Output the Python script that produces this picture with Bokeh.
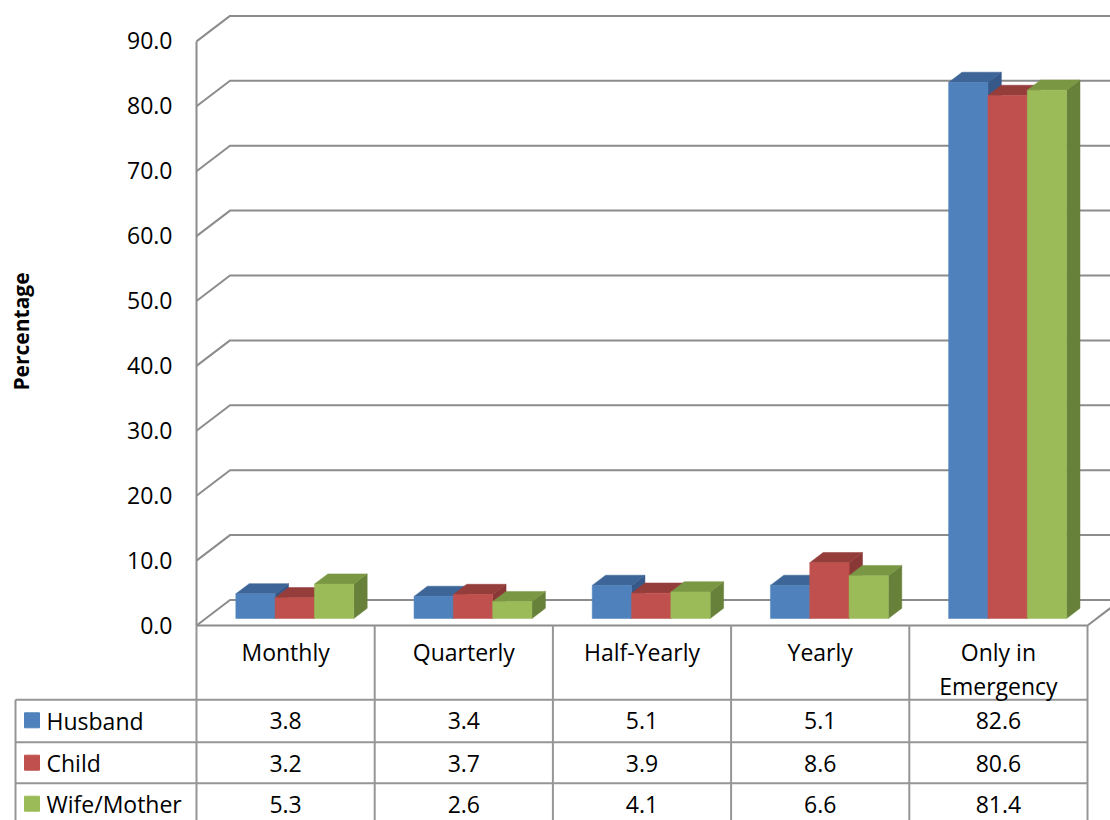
import math
from bokeh.plotting import figure
from bokeh.models import Range1d
from bokeh.embed import file_html
from bokeh.resources import INLINE
from bokeh.core.properties import value

# ---------------- data ----------------
categories = ["Monthly", "Quarterly", "Half-Yearly", "Yearly", "Only in\nEmergency"]
series_names = ["Husband", "Child", "Wife/Mother"]
husband = [3.8, 3.4, 5.1, 5.1, 82.6]
child = [3.2, 3.7, 3.9, 8.6, 80.6]
wife = [5.3, 2.6, 4.1, 6.6, 81.4]
y_ticks = [0, 10, 20, 30, 40, 50, 60, 70, 80, 90]
y_title = "Percentage"

series = [husband, child, wife]

# ---------------- style ----------------
FRONT = ["#4F81BD", "#C0504D", "#9BBB59"]
TOP = ["#3D6597", "#953D3A", "#7A9744"]
SIDE = ["#37598A", "#8A3835", "#67803A"]
GRID = "#8C8C8C"
TABLE = "#969696"
FONT = "Open Sans"
FS = "23px"

# ---------------- layout (pixel geometry) ----------------
CAT_PX = 178.2          # px per category
VAL_PX = 6.49           # px per percentage point
X0_PX, Y0_PX = 196, 625 # front-left-bottom corner of plot area
DEPTH_DX_PX, DEPTH_DY_PX = 33.5, 25.5
W, H = 1110, 820
OFF = 0
BAR_D0, BAR_D1 = 0.275, 0.675   # bar depth slab
GROUP_FRAC = 0.662              # fraction of category used by bar group
TXT_UP = 8                      # baseline correction in px


def xs(sx):
    return (sx - X0_PX) / CAT_PX


def ys(sy):
    return (Y0_PX - sy) / VAL_PX


def ty_(sy):
    return ys(sy - TXT_UP)


DXc = DEPTH_DX_PX / CAT_PX
DYv = DEPTH_DY_PX / VAL_PX


def proj(x, v, d):
    return x + d * DXc, v + d * DYv


p = figure(width=W, height=H, output_backend="svg", toolbar_location=None,
           x_range=Range1d(xs(OFF), xs(OFF + W)),
           y_range=Range1d(ys(OFF + H), ys(OFF)),
           x_axis_type=None, y_axis_type=None, min_border=0)
p.grid.visible = False
p.outline_line_color = None
p.background_fill_color = "white"
p.border_fill_color = "white"

ncat = len(categories)
vmax = y_ticks[-1]

# ---------------- walls / gridlines ----------------
gx, gy = [], []
for v in y_ticks:
    a = proj(0, v, 0)
    b = proj(0, v, 1)
    c = proj(ncat, v, 1)
    gx.append([a[0], b[0], c[0] + 0.5])
    gy.append([a[1], b[1], c[1]])
p.multi_line(gx, gy, line_color=GRID, line_width=2)
# front vertical axis line
p.line([0, 0], [0, vmax], line_color=GRID, line_width=2)
# floor front edge + right edge
fr = proj(ncat, 0, 1)
p.line([0, ncat, fr[0]], [0, 0, fr[1]], line_color=GRID, line_width=2)

# ---------------- 3D bars ----------------
bw = GROUP_FRAC / len(series)
px_, py_, pc_ = [], [], []
for i in range(ncat):
    for j, s in enumerate(series):
        v = s[i]
        x0 = i + (1 - GROUP_FRAC) / 2 + j * bw
        x1 = x0 + bw
        # side
        pts = [proj(x1, 0, BAR_D0), proj(x1, v, BAR_D0), proj(x1, v, BAR_D1), proj(x1, 0, BAR_D1)]
        px_.append([q[0] for q in pts]); py_.append([q[1] for q in pts]); pc_.append(SIDE[j])
        # top
        pts = [proj(x0, v, BAR_D0), proj(x1, v, BAR_D0), proj(x1, v, BAR_D1), proj(x0, v, BAR_D1)]
        px_.append([q[0] for q in pts]); py_.append([q[1] for q in pts]); pc_.append(TOP[j])
        # front
        pts = [proj(x0, 0, BAR_D0), proj(x1, 0, BAR_D0), proj(x1, v, BAR_D0), proj(x0, v, BAR_D0)]
        px_.append([q[0] for q in pts]); py_.append([q[1] for q in pts]); pc_.append(FRONT[j])
p.patches(px_, py_, fill_color=pc_, line_color=pc_, line_width=0.5)

# ---------------- y tick labels ----------------
p.text(x=[xs(172)] * len(y_ticks), y=[v - (7.5 - TXT_UP) / VAL_PX for v in y_ticks],
       text=[f"{v:.1f}" for v in y_ticks], text_align="right", text_baseline="alphabetic",
       text_font=value(FONT), text_font_size=FS, text_color="black")

# y title
p.text(x=[xs(20)], y=[ys(331)], text=[y_title], angle=math.pi / 2,
       text_align="center", text_baseline="middle", text_font=value(FONT),
       text_font_size="21px", text_font_style="bold", text_color="black")

# ---------------- data table ----------------
ROW_TOPS_PX = [699.3, 741.7, 782.7]
TABLE_BOTTOM_PX = 830
LEGEND_LEFT_PX = 15

# vertical lines
vx, vy = [], []
for k in range(ncat + 1):
    vx.append([k, k]); vy.append([0, ys(TABLE_BOTTOM_PX)])
vx.append([xs(LEGEND_LEFT_PX)] * 2); vy.append([ys(ROW_TOPS_PX[0]), ys(TABLE_BOTTOM_PX)])
for rt in ROW_TOPS_PX:
    vx.append([xs(LEGEND_LEFT_PX), ncat]); vy.append([ys(rt), ys(rt)])
p.multi_line(vx, vy, line_color=TABLE, line_width=2)

# header labels
hx, hy, ht = [], [], []
for i, c in enumerate(categories):
    for k, line in enumerate(c.split("\n")):
        hx.append(i + 0.5); hy.append(ty_(659 + 34 * k)); ht.append(line)
p.text(x=hx, y=hy, text=ht, text_align="center", text_baseline="alphabetic",
       text_font=value(FONT), text_font_size=FS, text_color="black")

# values
tx, tyv, tt = [], [], []
for j, s in enumerate(series):
    for i, v in enumerate(s):
        tx.append(i + 0.5); tyv.append(ty_(ROW_TOPS_PX[j] + 29)); tt.append(f"{v:.1f}")
p.text(x=tx, y=tyv, text=tt, text_align="center", text_baseline="alphabetic",
       text_font=value(FONT), text_font_size=FS, text_color="black")

# legend keys
p.quad(left=[xs(24)] * 3, right=[xs(39)] * 3,
       top=[ys(rt + 13) for rt in ROW_TOPS_PX], bottom=[ys(rt + 28) for rt in ROW_TOPS_PX],
       fill_color=FRONT, line_color=FRONT)
p.text(x=[xs(46)] * 3, y=[ty_(rt + 29) for rt in ROW_TOPS_PX], text=series_names,
       text_align="left", text_baseline="alphabetic",
       text_font=value(FONT), text_font_size=FS, text_color="black")

open("out.html", "w").write(file_html(p, INLINE))
